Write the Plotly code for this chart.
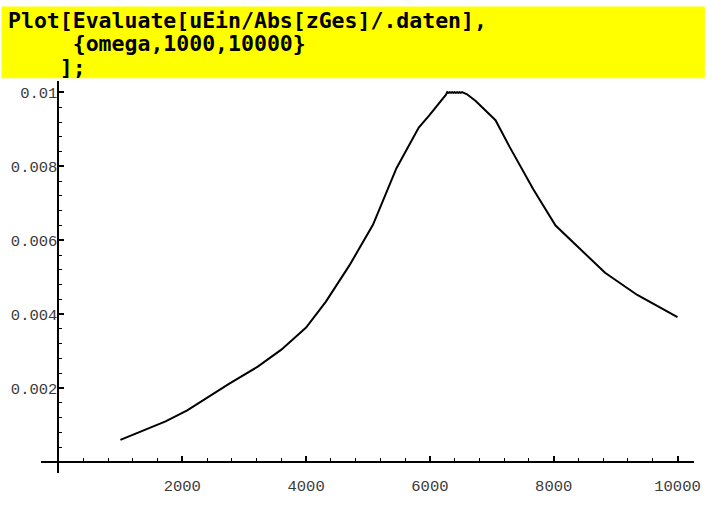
import plotly.graph_objects as go

# Data (omega, current amplitude)
omega = [1000, 1730, 2080, 2760, 3220, 3600, 4000, 4320, 4700, 5080, 5460, 5820,
         5990, 6180, 6260, 6280, 6300, 6320, 6340, 6360, 6380, 6400, 6420, 6440,
         6460, 6480, 6500, 6520, 6540, 6560, 6600, 6740, 7060, 7290, 7670, 8030,
         8410, 8830, 9350, 10000]
current = [0.00060, 0.00110, 0.00140, 0.00212, 0.00258, 0.00304, 0.00364, 0.00434,
           0.00532, 0.00642, 0.00795, 0.00905, 0.00938, 0.00977, 0.00994, 0.01001,
           0.00999, 0.01001, 0.00999, 0.01001, 0.00999, 0.01001, 0.00999, 0.01001,
           0.00999, 0.01001, 0.00999, 0.01001, 0.00999, 0.00999, 0.00995, 0.00977,
           0.00925, 0.00852, 0.00738, 0.00640, 0.00580, 0.00512, 0.00452, 0.00392]

x_tickvals = [2000, 4000, 6000, 8000, 10000]
x_ticktext = ["2000", "4000", "6000", "8000", "10000"]
y_tickvals = [0.002, 0.004, 0.006, 0.008, 0.01]
y_ticktext = ["0.002", "0.004", "0.006", "0.008", "0.01"]

header_lines = ["Plot[Evaluate[uEin/Abs[zGes]/.daten],",
                "     {omega,1000,10000}",
                "    ];"]

W, H = 712, 507
L, R, T, B = 40, 11, 81, 15
pw, ph = W - L - R, H - T - B

fig = go.Figure()
fig.add_trace(go.Scatter(x=omega, y=current, mode="lines",
                         line=dict(color="black", width=2), hoverinfo="skip"))

x0px, x10px = 57.7, 684.3
xscale = (x10px - x0px) / 10000.0
xmin = -(x0px - L) / xscale
xmax = xmin + pw / xscale
y0px = 480.5
yscale = 77.5 / 0.002
ymin = -((H - B) - y0px) / yscale
ymax = ymin + ph / yscale

tickfont = dict(family="Liberation Mono, Courier New, monospace", size=15.5, color="#3a3a3a")

fig.update_layout(
    width=W, height=H,
    margin=dict(l=L, r=R, t=T, b=B),
    paper_bgcolor="white", plot_bgcolor="white",
    showlegend=False,
    xaxis=dict(range=[xmin, xmax], showgrid=False, zeroline=False,
               showline=True, linecolor="black", linewidth=2,
               anchor="free", position=((H - B) - y0px) / ph,
               tickmode="array", tickvals=x_tickvals, ticktext=x_ticktext,
               ticks="inside", ticklen=5, tickwidth=1.5, tickcolor="black",
               tickfont=tickfont, ticklabelstandoff=9,
               minor=dict(tick0=0, dtick=400, ticks="inside", ticklen=3,
                          tickwidth=1, tickcolor="black")),
    yaxis=dict(range=[ymin, ymax], showgrid=False, zeroline=False,
               showline=True, linecolor="black", linewidth=2,
               anchor="free", position=(x0px - L) / pw,
               tickmode="array", tickvals=y_tickvals, ticktext=y_ticktext,
               ticks="inside", ticklen=5, tickwidth=1.5, tickcolor="black",
               tickfont=tickfont, ticklabelstandoff=-3,
               minor=dict(tick0=0, dtick=0.0004, ticks="inside", ticklen=3,
                          tickwidth=1, tickcolor="black")),
)

# yellow header band
fig.add_shape(type="rect", xref="paper", yref="paper",
              x0=-L / pw, x1=1 + R / pw, y0=1 + 3 / ph, y1=1 + (T - 3) / ph,
              fillcolor="#ffff00", line=dict(width=0), layer="below")

line_y = [18, 42, 67]
for txt, ypx in zip(header_lines, line_y):
    fig.add_annotation(text="<b>" + txt.replace(" ", "&nbsp;") + "</b>",
                       xref="paper", yref="paper",
                       x=(5 - L) / pw, y=1 + (T - ypx) / ph,
                       xanchor="left", yanchor="middle", showarrow=False,
                       font=dict(family="DejaVu Sans Mono, monospace", size=21.5, color="black"))

fig.write_html("out.html", config={"displayModeBar": False},
               post_script="document.body.style.margin='0';")
